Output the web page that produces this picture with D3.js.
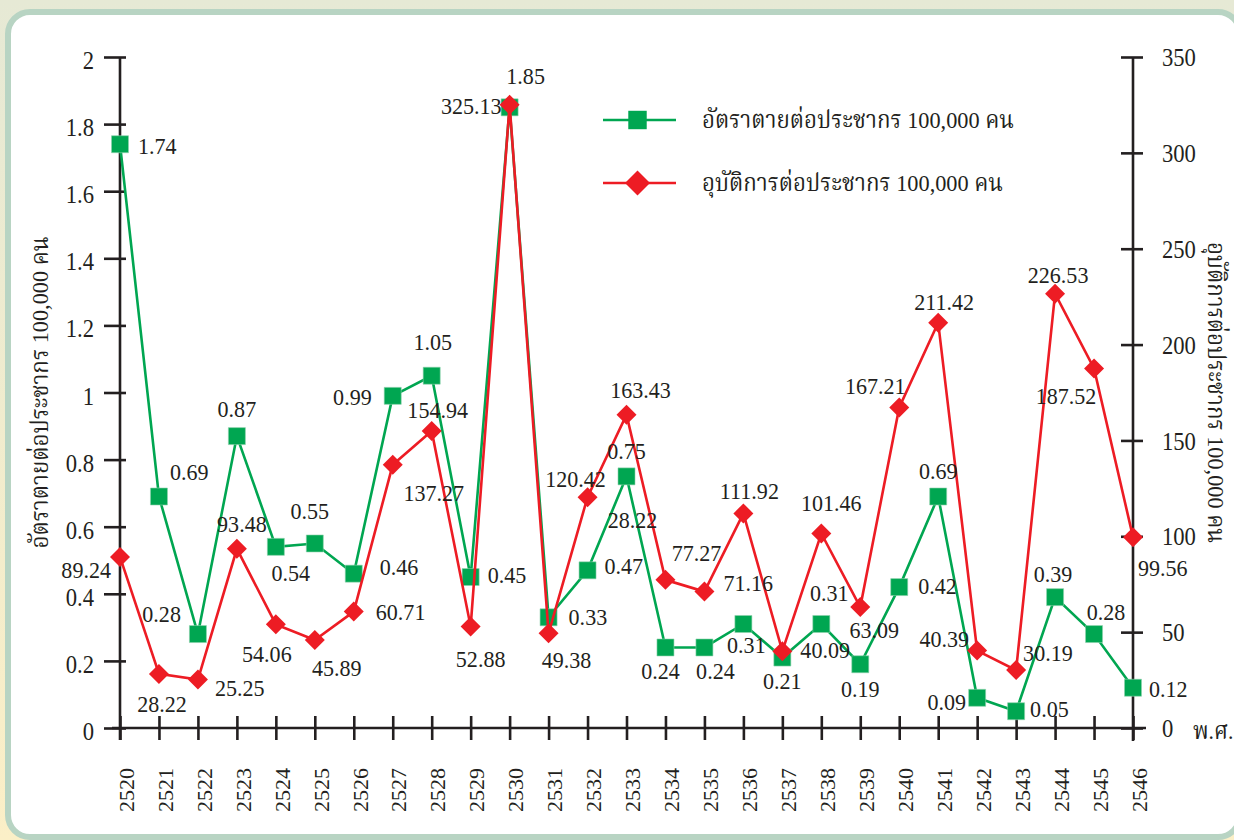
<!DOCTYPE html>
<html>
<head>
<meta charset="utf-8">
<script src="https://cdn.jsdelivr.net/npm/d3@7"></script>
<style>
    body { margin: 0; background: #e8ead6; }
    svg { display: block; }
    text {
        font-family: "Liberation Serif", "Noto Serif Thai", "Noto Sans Thai", "Norasi", "Kinnari", "Garuda", serif;
        fill: #231f20;
    }
</style>
</head>
<body>
<div id="chart"></div>
<script>
const years = [2520, 2521, 2522, 2523, 2524, 2525, 2526, 2527, 2528, 2529, 2530, 2531, 2532, 2533,
    2534, 2535, 2536, 2537, 2538, 2539, 2540, 2541, 2542, 2543, 2544, 2545, 2546];
const deathRate = [1.74, 0.69, 0.28, 0.87, 0.54, 0.55, 0.46, 0.99, 1.05, 0.45, 1.85, 0.33, 0.47, 0.75,
    0.24, 0.24, 0.31, 0.21, 0.31, 0.19, 0.42, 0.69, 0.09, 0.05, 0.39, 0.28, 0.12];
const accidentRate = [89.24, 28.22, 25.25, 93.48, 54.06, 45.89, 60.71, 137.27, 154.94, 52.88, 325.13, 49.38,
    120.42, 163.43, 77.27, 71.16, 111.92, 40.09, 101.46, 63.09, 167.21, 211.42, 40.39, 30.19, 226.53, 187.52, 99.56];
const leftTicks = [0, 0.2, 0.4, 0.6, 0.8, 1, 1.2, 1.4, 1.6, 1.8, 2];
const rightTicks = [0, 50, 100, 150, 200, 250, 300, 350];
const deathName = "อัตราตายต่อประชากร 100,000 คน";
const accidentName = "อุบัติการต่อประชากร 100,000 คน";
const xUnit = "พ.ศ.";
// a stray label printed in the original next to the 2533 point
const strayLabel = {year: 2533, text: "28.22"};

// where each value label sits relative to its marker: [dx, dy, anchor]
const deathLabelPos = [
    [18, 2, "start"], [11, -24, "start"], [-17, -20, "end"], [0, -27, "middle"], [15, 26, "middle"],
    [-5, -32, "middle"], [26, -7, "start"], [-21, 1, "end"], [1, -34, "middle"], [17, -2, "start"],
    [16, -31, "middle"], [20, 0, "start"], [17, -4, "start"], [0, -25, "middle"], [-5, 24, "middle"],
    [11, 24, "middle"], [3, 21, "middle"], [0, 24, "middle"], [8, -31, "middle"], [0, 25, "middle"],
    [19, -1, "start"], [0, -25, "middle"], [-11, 4, "end"], [14, -2, "start"], [-2, -23, "middle"],
    [12, -22, "middle"], [16, 1, "start"]
];
const accidentLabelPos = [
    [-9, 13, "end"], [3, 30, "middle"], [17, 8, "start"], [5, -25, "middle"], [-9, 30, "middle"],
    [22, 28, "middle"], [22, 0, "start"], [41, 28, "middle"], [6, -21, "middle"], [10, 32, "middle"],
    [-8, 1, "end"], [18, 27, "middle"], [-12, -18, "middle"], [14, -25, "middle"], [31, -27, "middle"],
    [19, -9, "start"], [6, -22, "middle"], [18, -1, "start"], [10, -30, "middle"], [14, 23, "middle"],
    [-24, -21, "middle"], [6, -21, "middle"], [-8, -12, "end"], [7, -17, "start"], [3, -19, "middle"],
    [-28, 28, "middle"], [5, 31, "start"]
];

const green = "#00a651";
const red = "#ed1c24";
const ink = "#231f20";
const width = 1234, height = 840;

const svg = d3.select("#chart").append("svg")
    .attr("width", width)
    .attr("height", height);

const grad = svg.append("defs").append("linearGradient")
    .attr("id", "bg").attr("x1", 0).attr("y1", 0).attr("x2", 0).attr("y2", 1);
grad.append("stop").attr("offset", "0%").attr("stop-color", "#e6e9d5");
grad.append("stop").attr("offset", "100%").attr("stop-color", "#fbefc7");
svg.append("rect").attr("width", width).attr("height", height).attr("fill", "url(#bg)");
svg.append("rect")
    .attr("x", 8).attr("y", 12).attr("width", 1232).attr("height", 825).attr("rx", 22)
    .attr("fill", "#fff").attr("stroke", "#b8d4c3").attr("stroke-width", 6);

const x = d3.scaleLinear().domain([years[0], years[years.length - 1]]).range([120, 1133]);
const yL = d3.scaleLinear().domain([0, 2]).range([728, 57]);
const yR = d3.scaleLinear().domain([0, 350]).range([728, 57]);

// the print font is narrower than Liberation Serif, squeeze text horizontally
function squeeze(sel, dx, dy, k) {
    sel.attr("x", 0).attr("y", 0)
        .attr("transform", `translate(${dx},${dy}) scale(${k},1)`);
}

// axes
const leftAxis = svg.append("g")
    .attr("transform", `translate(${x.range()[0]},0)`)
    .call(d3.axisLeft(yL).tickValues(leftTicks).tickSize(16).tickFormat(d => String(d)));
leftAxis.selectAll(".tick line").attr("x1", 6);
leftAxis.selectAll(".tick text")
    .attr("font-size", 26).attr("dy", "0.33em").attr("text-anchor", "end")
    .call(squeeze, -26, 3, 0.87);

const rightAxis = svg.append("g")
    .attr("transform", `translate(${x.range()[1]},0)`)
    .call(d3.axisRight(yR).tickValues(rightTicks).tickSize(10));
rightAxis.selectAll(".tick line").attr("x1", -12);
rightAxis.selectAll(".tick text")
    .attr("font-size", 26).attr("dy", "0.33em").attr("text-anchor", "start")
    .call(squeeze, 29, 0, 0.87);

const bottomAxis = svg.append("g")
    .attr("transform", `translate(0,${yL(0)})`)
    .call(d3.axisBottom(x).tickValues(years).tickSize(12).tickFormat(d3.format("d")));
bottomAxis.selectAll(".tick line").attr("y1", -12);
bottomAxis.selectAll(".tick text")
    .attr("font-size", 22).attr("dy", "0.33em").attr("text-anchor", "middle")
    .attr("x", 0).attr("y", 0)
    .attr("transform", "translate(6,62) rotate(-90)");

// drop the axis defaults (sans-serif, 10px) so the page font applies
[leftAxis, rightAxis, bottomAxis].forEach(a => a.attr("font-family", null).attr("font-size", null));
svg.selectAll(".domain").remove();
svg.selectAll(".tick line").attr("stroke", ink).attr("stroke-width", 2.6);
svg.selectAll(".tick text").attr("fill", ink);

// axis lines
const axisLines = [
    [x.range()[0], yL.range()[1], x.range()[0], yL(0) + 12],
    [x.range()[1], yR.range()[1], x.range()[1], yR(0) + 13],
    [x.range()[0] - 8, yL(0), x.range()[1] + 13, yL(0)]
];
svg.append("g").selectAll("line").data(axisLines).join("line")
    .attr("x1", d => d[0]).attr("y1", d => d[1])
    .attr("x2", d => d[2]).attr("y2", d => d[3])
    .attr("stroke", ink).attr("stroke-width", 2.6);

// axis titles
svg.append("text")
    .attr("font-size", 24).attr("text-anchor", "middle").attr("dy", "0.33em")
    .attr("transform", `translate(40,${(yL.range()[0] + yL.range()[1]) / 2}) rotate(-90) scale(0.93,1)`)
    .text(deathName);
svg.append("text")
    .attr("font-size", 24).attr("text-anchor", "middle").attr("dy", "0.33em")
    .attr("transform", `translate(1216,${(yR.range()[0] + yR.range()[1]) / 2}) rotate(90) scale(0.93,1)`)
    .text(accidentName);
svg.append("text")
    .attr("font-size", 24).attr("dy", "0.33em")
    .call(squeeze, x.range()[1] + 60, yL(0) + 3, 0.9)
    .text(xUnit);

// lines and markers
const square = d3.symbol(d3.symbolSquare, 289);
const diamond = d3.symbol(d3.symbolSquare, 200);

const deathLine = d3.line().x((d, i) => x(years[i])).y(d => yL(d));
const accidentLine = d3.line().x((d, i) => x(years[i])).y(d => yR(d));

svg.append("path").datum(deathRate)
    .attr("d", deathLine).attr("fill", "none")
    .attr("stroke", green).attr("stroke-width", 2.6);
svg.append("g").selectAll("path").data(deathRate).join("path")
    .attr("d", square)
    .attr("transform", (d, i) => `translate(${x(years[i])},${yL(d)})`)
    .attr("fill", green).attr("stroke", "#8fd1ad").attr("stroke-width", 0.6);

svg.append("path").datum(accidentRate)
    .attr("d", accidentLine).attr("fill", "none")
    .attr("stroke", red).attr("stroke-width", 2.6);
svg.append("g").selectAll("path").data(accidentRate).join("path")
    .attr("d", diamond)
    .attr("transform", (d, i) => `translate(${x(years[i])},${yR(d)}) rotate(45)`)
    .attr("fill", red);

// value labels
function valueLabels(values, scale, pos) {
    svg.append("g").selectAll("text").data(values).join("text")
        .attr("font-size", 24).attr("dy", "0.33em")
        .attr("text-anchor", (d, i) => pos[i][2])
        .attr("transform", (d, i) =>
            `translate(${x(years[i]) + pos[i][0]},${scale(d) + pos[i][1]}) scale(0.92,1)`)
        .text(d => d3.format(".2f")(d));
}
valueLabels(deathRate, yL, deathLabelPos);
valueLabels(accidentRate, yR, accidentLabelPos);

const si = years.indexOf(strayLabel.year);
svg.append("text")
    .attr("font-size", 24).attr("dy", "0.33em").attr("text-anchor", "middle")
    .attr("transform", `translate(${x(strayLabel.year) + 6},${yL(deathRate[si]) + 44}) scale(0.92,1)`)
    .text(strayLabel.text);

// legend
const legend = [
    {name: deathName, color: green, symbol: d3.symbol(d3.symbolSquare, 340), rot: 0},
    {name: accidentName, color: red, symbol: d3.symbol(d3.symbolSquare, 312), rot: 45}
];
const lg = svg.append("g").attr("transform", "translate(603,120)");
const item = lg.selectAll("g").data(legend).join("g")
    .attr("transform", (d, i) => `translate(0,${i * 63})`);
item.append("line")
    .attr("x1", 0).attr("x2", 73)
    .attr("stroke", d => d.color).attr("stroke-width", 2.6);
item.append("path")
    .attr("d", d => d.symbol())
    .attr("transform", d => `translate(34.5,0) rotate(${d.rot})`)
    .attr("fill", d => d.color);
item.append("text")
    .attr("font-size", 24).attr("dy", "0.33em")
    .attr("transform", "translate(99,0) scale(0.93,1)")
    .text(d => d.name);
</script>
</body>
</html>
